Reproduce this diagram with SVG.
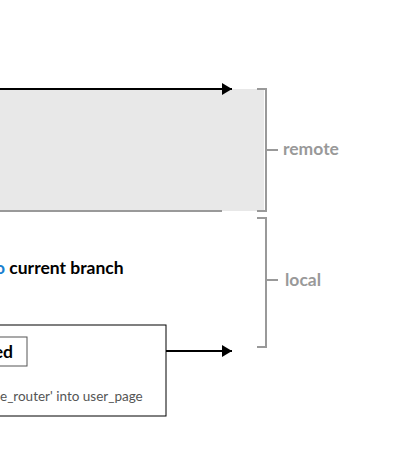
<svg xmlns="http://www.w3.org/2000/svg" width="400" height="476" viewBox="0 0 400 476">
<defs>
<marker id="arr" viewBox="0 0 10 12" refX="10" refY="6" markerWidth="10" markerHeight="12" markerUnits="userSpaceOnUse" orient="auto">
<path d="M0,0 L10,6 L0,12 Z" fill="#000"/>
</marker>
</defs>
<style>
.brk{fill:none;stroke:#999;stroke-width:2}
.lbl{font-family:Lato,"Liberation Sans",sans-serif;font-weight:bold;font-size:17.5px;fill:#999}
.bold{font-family:Lato,"Liberation Sans",sans-serif;font-weight:bold;font-size:17.5px;fill:#000}
.msg{font-family:Lato,"Liberation Sans",sans-serif;font-weight:normal;font-size:13.5px;fill:#555}
.conn{stroke:#000;stroke-width:2;fill:none}
</style>
<rect width="400" height="476" fill="#fff"/>
<g id="remote-area">
<rect x="0" y="89" width="264" height="122" fill="#e8e8e8"/>
<line x1="0" y1="211" x2="222" y2="211" stroke="#999" stroke-width="2"/>
</g>
<g id="remote-bracket">
<path class="brk" d="M257,89 H266 V211 H257 M266,150 H278"/>
<text class="lbl" x="283" y="155">remote</text>
</g>
<g id="local-bracket">
<path class="brk" d="M257,218 H266 V347 H257 M266,280 H278"/>
<text class="lbl" x="285" y="286">local</text>
</g>
<g id="current-branch">
<text class="bold" x="-5" y="274"><tspan fill="#1a7fd0">o</tspan> current branch</text>
</g>
<g id="commit">
<rect x="-2" y="325" width="168" height="91" fill="#fff" stroke="#000" stroke-width="1"/>
<rect x="-2" y="337" width="29" height="29" fill="#fff" stroke="#555" stroke-width="1"/>
<text class="bold" x="13" y="358" text-anchor="end">ed</text>
<text class="msg" x="0" y="401">e_router' into user_page</text>
</g>
<g id="connectors">
<line class="conn" x1="0" y1="89" x2="232" y2="89" marker-end="url(#arr)"/>
<line class="conn" x1="166" y1="351" x2="232" y2="351" marker-end="url(#arr)"/>
</g>
</svg>
